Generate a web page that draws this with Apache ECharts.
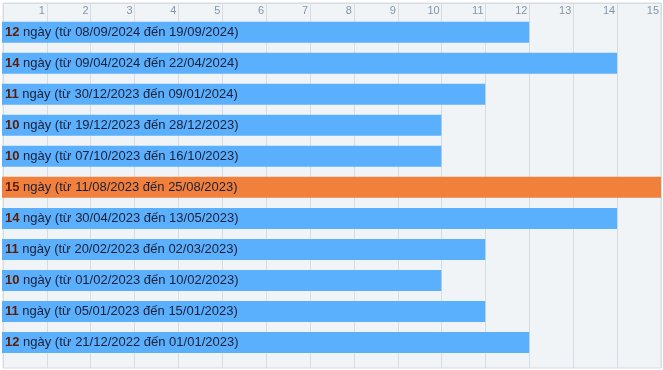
<!DOCTYPE html>
<html>
<head>
<meta charset="utf-8">
<script src="https://cdn.jsdelivr.net/npm/echarts@6/dist/echarts.min.js"></script>
<style>html,body{margin:0;padding:0;background:#fff;}#c{width:663px;height:370px;}</style>
</head>
<body>
<div id="c"></div>
<script>
var days = [12, 14, 11, 10, 10, 15, 14, 11, 10, 11, 12];
var startDates = ['08/09/2024','09/04/2024','30/12/2023','19/12/2023','07/10/2023','11/08/2023','30/04/2023','20/02/2023','01/02/2023','05/01/2023','21/12/2022'];
var endDates = ['19/09/2024','22/04/2024','09/01/2024','28/12/2023','16/10/2023','25/08/2023','13/05/2023','02/03/2023','10/02/2023','15/01/2023','01/01/2023'];
var highlightIndex = 5;
var tickLabels = ['', '1','2','3','4','5','6','7','8','9','10','11','12','13','14','15'];

var categories = days.map(function(d, i){ return startDates[i] + ' - ' + endDates[i]; });

var chart = echarts.init(document.getElementById('c'), null, {renderer:'canvas'});
chart.setOption({
  animation: false,
  grid: [
    {left: 2, right: 2, top: 3, bottom: 2, show: true, backgroundColor: '#f1f4f7', borderColor: '#d6dce2', borderWidth: 1},
    {left: 2, right: 2, top: 16.7, bottom: 12}
  ],
  xAxis: [
    {gridIndex: 0, type: 'value', position: 'top', min: 0, max: 15, interval: 1,
     axisLine: {show: true, lineStyle: {color: '#d6dce2'}},
     axisTick: {show: false},
     splitLine: {show: true, lineStyle: {color: '#d6dce2', width: 1}},
     axisLabel: {inside: true, margin: 8, verticalAlign: 'middle', align: 'right', padding: [0, 2, 0, 0],
       color: '#8494a6', fontSize: 11, fontFamily: 'Liberation Sans, Arial, sans-serif',
       formatter: function(v){ return tickLabels[v] || ''; }}},
    {gridIndex: 1, type: 'value', min: 0, max: 15, interval: 1, show: false}
  ],
  yAxis: [
    {gridIndex: 0, type: 'category', data: categories, inverse: true, show: false},
    {gridIndex: 1, type: 'category', data: categories, inverse: true, show: false}
  ],
  series: [{
    type: 'bar', xAxisIndex: 1, yAxisIndex: 1, barWidth: 21,
    data: days.map(function(d, i){
      return {value: d, itemStyle: {color: i === highlightIndex ? '#f0803c' : '#5ab0fd'}};
    }),
    label: {
      show: true, position: 'insideLeft', distance: 3,
      formatter: function(p){
        var i = p.dataIndex;
        return '{b|' + days[i] + '}{t| ngày (từ ' + startDates[i] + ' đến ' + endDates[i] + ')}';
      },
      rich: {
        b: {fontWeight: 'bold', color: '#5e1c04', fontSize: 13, fontFamily: 'Liberation Sans, Arial, sans-serif'},
        t: {color: '#1c1f38', fontSize: 13, fontFamily: 'Liberation Sans, Arial, sans-serif'}
      }
    }
  }]
});
</script>
</body>
</html>
